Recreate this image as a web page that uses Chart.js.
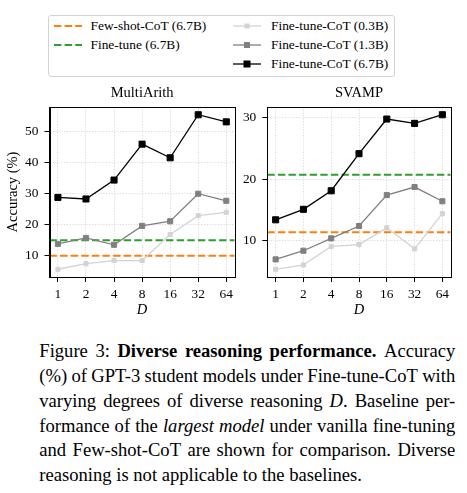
<!DOCTYPE html>
<html>
<head>
<meta charset="utf-8">
<script src="https://cdn.jsdelivr.net/npm/chart.js@4.4.0/dist/chart.umd.min.js"></script>
<style>
  html, body { margin: 0; padding: 0; background: #fff; }
  body { width: 467px; height: 493px; position: relative; overflow: hidden; font-family: 'Liberation Serif', 'DejaVu Serif', serif; }
  .box { position: absolute; }
  #legend { left: 47.5px; top: 15px; width: 345px; height: 60px; border: 1px solid #d3d3d3; border-radius: 3px; }
  .lg-text { position: absolute; font-size: 13.4px; line-height: 18px; height: 18px; white-space: nowrap; color: #000; }
  .lg-svg { position: absolute; }
  #caption { left: 39.3px; top: 339.4px; width: 416px; font-size: 18.6px; line-height: 24.7px; color: #000; }
  .ln { display: flex; justify-content: space-between; white-space: nowrap; }
  .ln.last { justify-content: flex-start; }
  .ln.last span { margin-right: 0.25em; }
</style>
</head>
<body>
<div id="legend" class="box"></div>
<div class="box" style="left:0;top:80px;width:240px;height:240px;"><canvas id="multiArith" width="240" height="240"></canvas></div>
<div class="box" style="left:240px;top:80px;width:227px;height:240px;"><canvas id="svamp" width="227" height="240"></canvas></div>
<div id="caption" class="box">
  <div class="ln"><span>Figure</span><span>3:</span><b>Diverse</b><b>reasoning</b><b>performance.</b><span>Accuracy</span></div>
  <div class="ln"><span>(%)</span><span>of</span><span>GPT-3</span><span>student</span><span>models</span><span>under</span><span>Fine-tune-CoT</span><span>with</span></div>
  <div class="ln"><span>varying</span><span>degrees</span><span>of</span><span>diverse</span><span>reasoning</span><span><i>D</i>.</span><span>Baseline</span><span>per-</span></div>
  <div class="ln"><span>formance</span><span>of</span><span>the</span><i>largest</i><i>model</i><span>under</span><span>vanilla</span><span>fine-tuning</span></div>
  <div class="ln"><span>and</span><span>Few-shot-CoT</span><span>are</span><span>shown</span><span>for</span><span>comparison.</span><span>Diverse</span></div>
  <div class="ln last"><span>reasoning</span><span>is</span><span>not</span><span>applicable</span><span>to</span><span>the</span><span>baselines.</span></div>
</div>

<script>
// x categories (degree of diverse reasoning D)
const dLabels = ['1', '2', '4', '8', '16', '32', '64'];

// MultiArith accuracy (%)
const multiArith03 = [5.6, 7.4, 8.4, 8.4, 16.8, 22.9, 24.0];
const multiArith13 = [13.8, 15.7, 13.5, 19.6, 21.1, 30.0, 27.7];
const multiArith67 = [28.8, 28.3, 34.4, 46.0, 41.6, 55.5, 53.2];
const multiArithFewShot = 10.0;
const multiArithFineTune = 15.0;
const multiArithTicks = [10, 20, 30, 40, 50];

// SVAMP accuracy (%)
const svamp03 = [5.4, 6.1, 9.1, 9.4, 12.1, 8.7, 14.4];
const svamp13 = [7.0, 8.4, 10.4, 12.4, 17.4, 18.7, 16.4];
const svamp67 = [13.4, 15.1, 18.1, 24.1, 29.7, 29.0, 30.4];
const svampFewShot = 11.4;
const svampFineTune = 20.7;
const svampTicks = [10, 20, 30];

const legendItems = [
  { label: 'Few-shot-CoT (6.7B)', color: '#ff7f0e', dash: true },
  { label: 'Fine-tune (6.7B)', color: '#2ca02c', dash: true },
  { label: 'Fine-tune-CoT (0.3B)', color: '#d3d3d3', size: 4 },
  { label: 'Fine-tune-CoT (1.3B)', color: '#808080', size: 5 },
  { label: 'Fine-tune-CoT (6.7B)', color: '#000000', size: 6 }
];

const X_MIN = -0.3, X_MAX = dLabels.length - 1 + 0.3;

Chart.defaults.font.family = "'Liberation Serif', 'DejaVu Serif', serif";
Chart.defaults.color = '#000';

const framePlugin = {
  id: 'frame',
  afterDraw(chart) {
    const a = chart.chartArea;
    const ctx = chart.ctx;
    ctx.save();
    ctx.strokeStyle = '#000';
    ctx.lineWidth = 1;
    ctx.strokeRect(Math.round(a.left) + 0.5, Math.round(a.top) + 0.5,
      Math.round(a.right) - Math.round(a.left), Math.round(a.bottom) - Math.round(a.top));
    ctx.restore();
  }
};

function toPoints(values) {
  return values.map((v, i) => ({ x: i, y: v }));
}

function baseline(value, color) {
  return {
    data: [{ x: X_MIN, y: value }, { x: X_MAX, y: value }],
    borderColor: color,
    borderWidth: 2,
    borderDash: [7.4, 3.2],
    pointRadius: 0,
    fill: false,
    order: 5
  };
}

function series(values, color, radius, order) {
  return {
    data: toPoints(values),
    borderColor: color,
    backgroundColor: color,
    borderWidth: 1.3,
    pointStyle: 'rect',
    pointRadius: radius,
    pointBorderWidth: 1,
    pointBorderColor: color,
    pointBackgroundColor: color,
    fill: false,
    order: order
  };
}

function makeChart(id, title, s03, s13, s67, fewShot, fineTune, ticks, yMin, yMax, yWidth, padRight, yTitle) {
  const ctx = document.getElementById(id);
  return new Chart(ctx, {
    type: 'line',
    data: {
      datasets: [
        series(s67, '#000000', 4.3, 1),
        series(s13, '#808080', 3.6, 2),
        series(s03, '#d3d3d3', 2.9, 3),
        baseline(fineTune, '#2ca02c'),
        baseline(fewShot, '#ff7f0e')
      ]
    },
    options: {
      responsive: false,
      animation: false,
      layout: { padding: { left: 0, right: padRight, top: 0, bottom: 0 } },
      plugins: {
        legend: { display: false },
        tooltip: { enabled: false },
        title: {
          display: true,
          text: title,
          fullSize: false,
          font: { size: 14.5, weight: 'normal' },
          padding: { top: 4, bottom: 5.6 },
          color: '#000'
        }
      },
      scales: {
        x: {
          type: 'linear',
          min: X_MIN,
          max: X_MAX,
          afterBuildTicks: (axis) => { axis.ticks = dLabels.map((_, i) => ({ value: i })); },
          afterFit: (axis) => { axis.height = 43; },
          ticks: {
            callback: (v) => dLabels[v],
            font: { size: 13.4 },
            padding: 4,
            maxRotation: 0,
            autoSkip: false
          },
          grid: {
            color: '#d0d0d0',
            lineWidth: 0.8,
            tickColor: '#000',
            tickWidth: 1,
            tickLength: 5,
            tickBorderDash: []
          },
          border: { display: true, color: '#000', width: 1, dash: [1.2, 1.6] },
          title: {
            display: true,
            text: 'D',
            font: { size: 14.5, style: 'italic' },
            padding: { top: 0, bottom: 1.3 }
          }
        },
        y: {
          type: 'linear',
          min: yMin,
          max: yMax,
          afterBuildTicks: (axis) => { axis.ticks = ticks.map(v => ({ value: v })); },
          afterFit: (axis) => { axis.width = yWidth; },
          ticks: {
            font: { size: 13.4 },
            padding: 6
          },
          grid: {
            color: '#d0d0d0',
            lineWidth: 0.8,
            tickColor: '#000',
            tickWidth: 1,
            tickLength: 5,
            tickBorderDash: []
          },
          border: { display: true, color: '#000', width: 1, dash: [1.2, 1.6] },
          title: {
            display: !!yTitle,
            text: yTitle || '',
            font: { size: 14.5 },
            padding: { top: 4.6, bottom: 0 }
          }
        }
      }
    },
    plugins: [framePlugin]
  });
}

function buildLegend() {
  const el = document.getElementById('legend');
  const rows = [10, 29, 48];
  const cols = [{ line: 5, text: 42 }, { line: 184.5, text: 222.5 }];
  const place = [[0, 0], [0, 1], [1, 0], [1, 1], [1, 2]];
  legendItems.forEach((item, i) => {
    const [c, r] = place[i];
    const cy = rows[r];
    const svg = document.createElementNS('http://www.w3.org/2000/svg', 'svg');
    svg.setAttribute('width', '30');
    svg.setAttribute('height', '12');
    svg.setAttribute('class', 'lg-svg');
    svg.style.left = cols[c].line + 'px';
    svg.style.top = (cy - 6) + 'px';
    const line = document.createElementNS('http://www.w3.org/2000/svg', 'line');
    line.setAttribute('x1', '0');
    line.setAttribute('x2', '28');
    line.setAttribute('y1', '6');
    line.setAttribute('y2', '6');
    line.setAttribute('stroke', item.color);
    line.setAttribute('stroke-width', item.dash ? '2' : '1.3');
    if (item.dash) line.setAttribute('stroke-dasharray', '7.4 3.2');
    svg.appendChild(line);
    if (item.size) {
      const sq = document.createElementNS('http://www.w3.org/2000/svg', 'rect');
      sq.setAttribute('x', 14 - item.size / 2);
      sq.setAttribute('y', 6 - item.size / 2);
      sq.setAttribute('width', item.size);
      sq.setAttribute('height', item.size);
      sq.setAttribute('fill', item.color);
      sq.setAttribute('stroke', item.color);
      sq.setAttribute('stroke-width', '1');
      svg.appendChild(sq);
    }
    el.appendChild(svg);
    const t = document.createElement('div');
    t.className = 'lg-text';
    t.textContent = item.label;
    t.style.left = cols[c].text + 'px';
    t.style.top = (cy - 9) + 'px';
    el.appendChild(t);
  });
}

buildLegend();
makeChart('multiArith', 'MultiArith', multiArith03, multiArith13, multiArith67,
  multiArithFewShot, multiArithFineTune, multiArithTicks, 3.1, 58.0, 49.5, 4, 'Accuracy (%)');
makeChart('svamp', 'SVAMP', svamp03, svamp13, svamp67,
  svampFewShot, svampFineTune, svampTicks, 4.15, 31.65, 27.3, 16.3, '');
</script>
</body>
</html>
